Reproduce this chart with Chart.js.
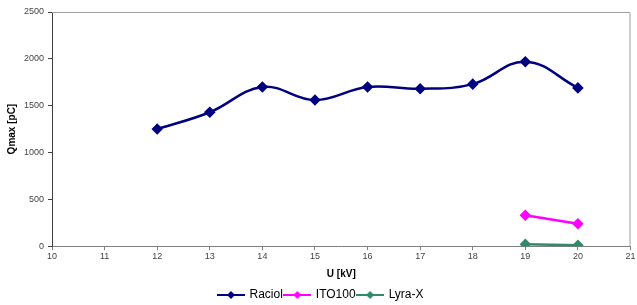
<!DOCTYPE html>
<html>
<head>
<meta charset="utf-8">
<script src="https://cdn.jsdelivr.net/npm/chart.js@4/dist/chart.umd.min.js"></script>
<style>
  html, body { margin: 0; padding: 0; background: #fff; }
  #wrap { width: 637px; height: 305px; }
</style>
</head>
<body>
<div id="wrap"><canvas id="chart" width="637" height="305"></canvas></div>
<script>
const voltages = [12, 13, 14, 15, 16, 17, 18, 19, 20];
const raciol = [1250, 1430, 1700, 1560, 1700, 1680, 1730, 1970, 1690];
const ito100 = [null, null, null, null, null, null, null, 330, 240];
const lyraX = [null, null, null, null, null, null, null, 20, 10];
const seriesNames = ["Raciol", "ITO100", "Lyra-X"];
const seriesColors = ["#000080", "#ff00ff", "#2e8b6b"];

function legendIcon(color) {
  const c = document.createElement("canvas");
  c.width = 28; c.height = 10;
  const g = c.getContext("2d");
  g.strokeStyle = color; g.lineWidth = 2;
  g.beginPath(); g.moveTo(0, 5); g.lineTo(28, 5); g.stroke();
  g.fillStyle = color;
  g.beginPath(); g.moveTo(14, 1); g.lineTo(18, 5); g.lineTo(14, 9); g.lineTo(10, 5); g.closePath(); g.fill();
  return c;
}

function toPoints(vals) {
  return voltages.map((v, i) => ({ x: v, y: vals[i] })).filter(p => p.y !== null);
}

const frame = {
  id: "frame",
  beforeDatasetsDraw(chart) {
    const a = chart.chartArea, ctx = chart.ctx;
    ctx.save();
    ctx.strokeStyle = "#a0a0a0";
    ctx.lineWidth = 1;
    ctx.beginPath();
    ctx.moveTo(a.left, a.top + 0.5);
    ctx.lineTo(a.right - 0.5, a.top + 0.5);
    ctx.lineTo(a.right - 0.5, a.bottom);
    ctx.stroke();
    ctx.restore();
  }
};

const allSeries = [raciol, ito100, lyraX];
new Chart(document.getElementById("chart"), {
  type: "line",
  data: {
    datasets: allSeries.map((vals, i) => ({
      label: seriesNames[i],
      data: toPoints(vals),
      borderColor: seriesColors[i],
      backgroundColor: seriesColors[i],
      borderWidth: 2.5,
      pointStyle: "rectRot",
      pointRadius: 4,
      pointHoverRadius: 4,
      tension: i === 0 ? 0.4 : 0
    }))
  },
  options: {
    responsive: false,
    animation: false,
    layout: { padding: { left: 6, right: 1, top: 12, bottom: -6 } },
    plugins: {
      tooltip: { enabled: false },
      legend: {
        position: "bottom",
        labels: {
          usePointStyle: true,
          pointStyleWidth: 25,
          boxHeight: 10,
          padding: 2,
          font: { family: "Liberation Sans", size: 12 },
          color: "#000",
          generateLabels(chart) {
            return chart.data.datasets.map((d, i) => ({
              text: d.label,
              pointStyle: legendIcon(seriesColors[i]),
              fillStyle: seriesColors[i],
              strokeStyle: seriesColors[i],
              fontColor: "#000",
              datasetIndex: i
            }));
          }
        }
      }
    },
    scales: {
      x: {
        type: "linear",
        min: 10, max: 21,
        ticks: { stepSize: 1, color: "#444", font: { family: "Liberation Sans", size: 9 }, padding: 1 },
        grid: { display: true, drawOnChartArea: false, drawTicks: true, tickLength: 4, color: "#808080" },
        border: { color: "#808080", width: 1 },
        title: { display: true, text: "U [kV]", font: { family: "Liberation Sans", size: 10, weight: "bold" }, color: "#000", padding: { top: 5, bottom: 7 } }
      },
      y: {
        min: 0, max: 2500,
        ticks: { stepSize: 500, color: "#444", font: { family: "Liberation Sans", size: 9 }, padding: 4, callback: v => String(v) },
        grid: { display: true, drawOnChartArea: false, drawTicks: true, tickLength: 4, color: "#404040" },
        border: { color: "#404040", width: 1 },
        title: { display: true, text: "Qmax [pC]", font: { family: "Liberation Sans", size: 10, weight: "bold" }, color: "#000", padding: { top: 0, bottom: 2 } }
      }
    }
  },
  plugins: [frame]
});
</script>
</body>
</html>
